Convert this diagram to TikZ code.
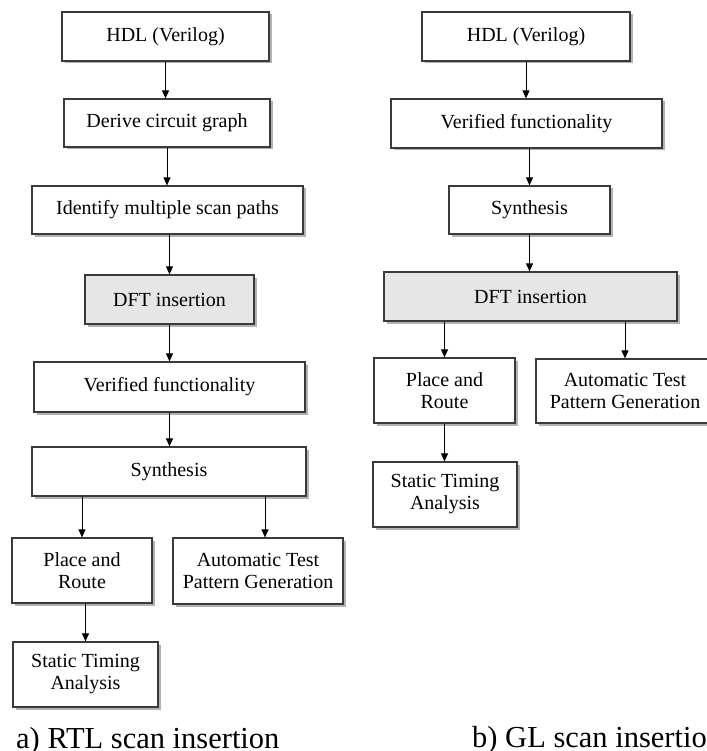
\documentclass[tikz,border=0pt]{standalone}
\usepackage{fontspec}
\setmainfont{Liberation Serif}
\usetikzlibrary{arrows.meta,shadows,calc}
\definecolor{boxline}{HTML}{3A3A3A}
\definecolor{dftfill}{HTML}{E6E6E6}
\tikzset{
  flowbox/.style={draw=boxline, line width=1.2pt, fill=white, inner sep=0pt,
    align=center, font=\fontsize{20}{22}\selectfont,
    drop shadow={shadow xshift=2.5pt, shadow yshift=-2.5pt, fill=black, opacity=0.3}},
  dftbox/.style={flowbox, fill=dftfill},
  arr/.style={draw=black, line width=0.9pt, -{Triangle[width=7pt,length=8pt]}},
  capt/.style={font=\fontsize{30.5}{34}\selectfont, inner sep=0pt}
}
\begin{document}
\begin{tikzpicture}[x=1pt,y=-1pt]
\useasboundingbox (0,0) rectangle (706,751);
% left flow
\node[flowbox, minimum width=207pt, minimum height=49pt] (L1) at (165.5,36.5) {HDL (Verilog)};
\node[flowbox, minimum width=206pt, minimum height=48pt] (L2) at (167,123) {Derive circuit graph};
\node[flowbox, minimum width=271pt, minimum height=48pt] (L3) at (167.5,210) {Identify multiple scan paths};
\node[dftbox, minimum width=169pt, minimum height=49pt] (L4) at (169.5,299.5) {DFT insertion};
\node[flowbox, minimum width=271pt, minimum height=50pt] (L5) at (169.5,387) {Verified functionality};
\node[flowbox, minimum width=274pt, minimum height=49pt] (L6) at (169,471.5) {Synthesis};
\node[flowbox, minimum width=140pt, minimum height=65pt] (L7) at (82,570.5) {Place and\\Route};
\node[flowbox, minimum width=170pt, minimum height=66pt] (L8) at (258,571) {Automatic Test\\Pattern Generation};
\node[flowbox, minimum width=145pt, minimum height=65pt] (L9) at (85.5,674.5) {Static Timing\\Analysis};
\draw[arr] (L1.south) -- (L1.south |- L2.north);
\draw[arr] (L2.south) -- (L2.south |- L3.north);
\draw[arr] (L4.north |- L3.south) -- (L4.north);
\draw[arr] (L4.south) -- (L4.south |- L5.north);
\draw[arr] (L5.south) -- (L5.south |- L6.north);
\draw[arr] (L7.north |- L6.south) -- (L7.north);
\draw[arr] ([xshift=7pt]L8.north |- L6.south) -- ([xshift=7pt]L8.north);
\draw[arr] (L9.north |- L7.south) -- (L9.north);
% right flow
\node[flowbox, minimum width=208pt, minimum height=49pt] (R1) at (526,36.5) {HDL (Verilog)};
\node[flowbox, minimum width=271pt, minimum height=49pt] (R2) at (526.5,123.5) {Verified functionality};
\node[flowbox, minimum width=161pt, minimum height=48pt] (R3) at (529.5,210) {Synthesis};
\node[dftbox, minimum width=293pt, minimum height=49pt] (R4) at (530.5,296.5) {DFT insertion};
\node[flowbox, minimum width=141pt, minimum height=65pt] (R5) at (444.5,390.5) {Place and\\Route};
\node[flowbox, minimum width=178pt, minimum height=64pt] (R6) at (625,391) {Automatic Test\\Pattern Generation};
\node[flowbox, minimum width=144pt, minimum height=65pt] (R7) at (445,494.5) {Static Timing\\Analysis};
\draw[arr] (R1.south) -- (R1.south |- R2.north);
\draw[arr] (R3.north |- R2.south) -- (R3.north);
\draw[arr] (R3.south) -- (R3.south |- R4.north);
\draw[arr] (R5.north |- R4.south) -- (R5.north);
\draw[arr] (R6.north |- R4.south) -- (R6.north);
\draw[arr] (R5.south) -- (R5.south |- R7.north);
% captions
\node[capt, anchor=base west] (CA) at (16,748) {a) RTL scan insertion};
\node[capt, anchor=base west] (CB) at (472,747) {b) GL scan insertion};
\end{tikzpicture}
\end{document}
